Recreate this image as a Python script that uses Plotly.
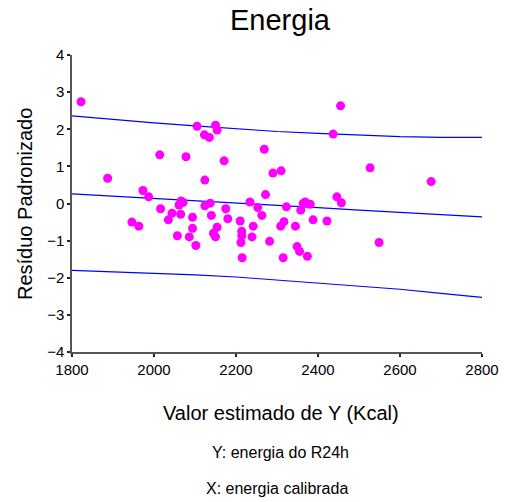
import plotly.graph_objects as go

# Scatter data: predicted value (Kcal) and standardized residual
x_pred = [1822, 1887, 1946, 1963, 1973, 1987, 2014, 2016, 2035, 2044,
          2057, 2061, 2066, 2071, 2065, 2078, 2086, 2094, 2094, 2102,
          2105, 2124, 2123, 2135, 2124, 2137, 2140, 2150, 2154, 2154,
          2145, 2150, 2171, 2175, 2180, 2210, 2214, 2214, 2212, 2215,
          2234, 2239, 2242, 2253, 2263, 2269, 2272, 2282, 2290, 2310,
          2309, 2317, 2315, 2323, 2345, 2349, 2355, 2358, 2364, 2369,
          2381, 2374, 2388, 2422, 2437, 2446, 2455, 2457, 2527, 2549,
          2676]
resid = [2.74, 0.68, -0.50, -0.61, 0.35, 0.18, 1.31, -0.14, -0.44, -0.26,
         -0.87, -0.04, 0.07, 0.03, -0.29, 1.26, -0.90, -0.37, -0.67, -1.13,
         2.08, 0.63, 1.85, 1.78, -0.06, 0.01, -0.32, 2.11, 1.98, -0.64,
         -0.80, -0.90, 1.15, -0.14, -0.41, -0.47, -0.75, -0.87, -1.05, -1.46,
         0.04, -0.90, -0.61, -0.11, -0.32, 1.46, 0.24, -1.02, 0.82, 0.88,
         -0.61, -0.49, -1.46, -0.09, -0.61, -1.16, -1.29, -0.18, 0.00, 0.04,
         -0.02, -1.42, -0.44, -0.47, 1.87, 0.18, 2.63, 0.02, 0.96, -1.05,
         0.59]

# Fit line and bands
line_x = [1800, 1900, 2000, 2100, 2200, 2300, 2400, 2500, 2600, 2700, 2800]
fit_y = [0.26, 0.20, 0.14, 0.07, 0.01, -0.05, -0.11, -0.18, -0.24, -0.30, -0.36]
upper_y = [2.36, 2.26, 2.17, 2.09, 2.01, 1.94, 1.89, 1.84, 1.80, 1.78, 1.78]
lower_y = [-1.80, -1.84, -1.88, -1.92, -1.98, -2.06, -2.14, -2.22, -2.31, -2.42, -2.53]

x_ticks = [1800, 2000, 2200, 2400, 2600, 2800]
y_ticks = [-4, -3, -2, -1, 0, 1, 2, 3, 4]

FONT = "Arial, Liberation Sans, sans-serif"

fig = go.Figure()
for ys in (upper_y, fit_y, lower_y):
    fig.add_trace(go.Scatter(x=line_x, y=ys, mode="lines",
                             line=dict(color="#0000FF", width=1.2),
                             hoverinfo="skip", showlegend=False))
fig.add_trace(go.Scatter(x=x_pred, y=resid, mode="markers",
                         marker=dict(color="#FF00FF", size=9),
                         showlegend=False))

# plot area: x 72..482, y 55..352 px
def py(p):
    return (352 - p) / 297.0

def px(p):
    return (p - 72) / 410.0

fig.update_layout(
    template="none",
    width=505, height=502,
    margin=dict(l=72, r=23, t=55, b=150, autoexpand=False),
    paper_bgcolor="white", plot_bgcolor="white",
    font=dict(family=FONT, color="black", size=15),
    xaxis=dict(range=[1800, 2800], tickvals=x_ticks, showgrid=False, automargin=False,
               zeroline=False, showline=True, linecolor="#555555", linewidth=1.5,
               ticks="outside", ticklen=3, tickwidth=2, tickcolor="#222222",
               tickfont=dict(size=15, family=FONT)),
    yaxis=dict(range=[-4, 4], tickvals=y_ticks, showgrid=False, automargin=False,
               zeroline=False, showline=True, linecolor="#555555", linewidth=1.5,
               ticks="outside", ticklen=3, tickwidth=2, tickcolor="#222222",
               tickfont=dict(size=15, family=FONT)),
    annotations=[
        dict(text="Energia", x=px(280), y=py(20), xref="paper", yref="paper",
             showarrow=False, font=dict(size=29, family=FONT), xanchor="center", yanchor="middle"),
        dict(text="Valor estimado de Y (Kcal)", x=px(281), y=py(413), xref="paper", yref="paper",
             showarrow=False, font=dict(size=20, family=FONT), xanchor="center", yanchor="middle"),
        dict(text="Resíduo Padronizado", x=px(25), y=py(204), xref="paper", yref="paper",
             showarrow=False, textangle=-90, font=dict(size=20, family=FONT),
             xanchor="center", yanchor="middle"),
        dict(text="Y: energia do R24h", x=px(280), y=py(453), xref="paper", yref="paper",
             showarrow=False, font=dict(size=16, family=FONT), xanchor="center", yanchor="middle"),
        dict(text="X: energia calibrada", x=px(277), y=py(488), xref="paper", yref="paper",
             showarrow=False, font=dict(size=16, family=FONT), xanchor="center", yanchor="middle"),
    ],
)

fig.write_html("out.html")
